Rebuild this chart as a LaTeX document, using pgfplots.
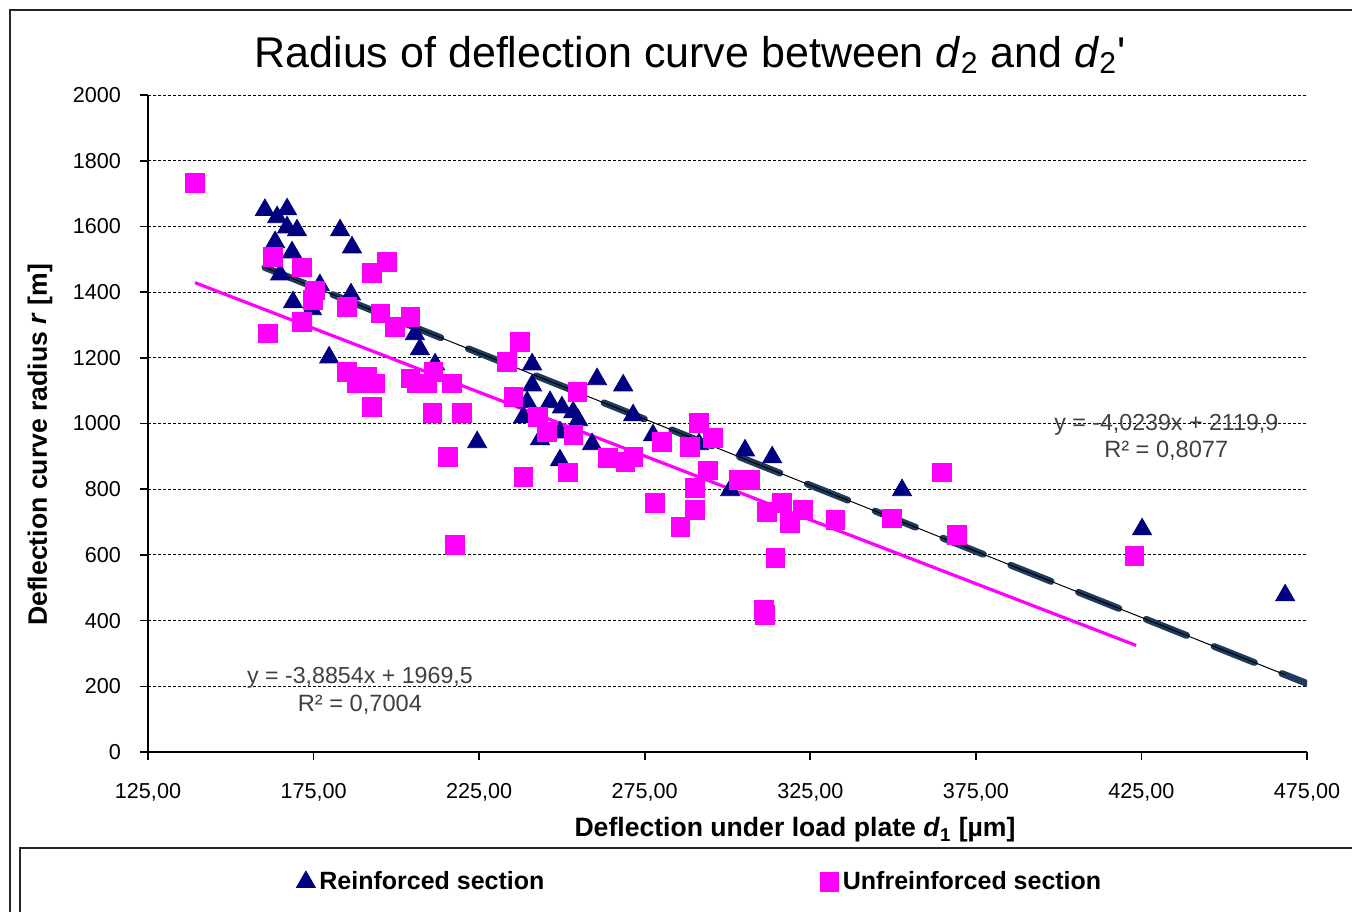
\documentclass[border=0pt]{standalone}
\usepackage{pgfplots}
\pgfplotsset{compat=1.18}
\usepackage{fontspec}
\setmainfont{Liberation Sans}
\definecolor{navyb}{RGB}{0,0,128}
\definecolor{mag}{RGB}{255,0,255}
\definecolor{trend}{RGB}{31,58,92}
\definecolor{eqgray}{RGB}{64,64,64}

\pgfplotstableread{
x y
160.3 1650
164.0 1628
167.0 1652
170.0 1588
167.0 1597
163.4 1552
168.5 1521
183.0 1588
186.6 1536
164.9 1454
168.8 1369
176.9 1421
186.3 1393
179.7 1201
174.5 1348
205.6 1272
207.1 1226
211.7 1180
224.4 943
241.0 1180
241.0 1116
239.5 1065
238.3 1019
246.4 1065
250.0 1049
253.4 1034
254.9 1010
249.4 973
243.4 952
259.1 937
249.4 888
260.6 1135
268.5 1116
271.5 1025
277.5 964
288.7 928
291.4 937
305.3 918
313.5 897
300.8 797
322.8 728
352.7 797
425.2 678
468.4 477
}\reinforced

\pgfplotstableread{
x y
139.2 1732
162.7 1507
171.5 1476
161.2 1275
171.5 1309
174.8 1376
175.4 1406
185.1 1355
192.6 1458
197.2 1492
195.1 1336
199.6 1294
204.2 1325
185.1 1157
188.1 1123
191.1 1142
193.6 1123
192.6 1050
204.2 1138
206.2 1123
209.3 1123
211.1 1157
216.8 1123
210.8 1032
219.8 1032
215.6 898
217.7 630
237.3 1248
233.4 1187
235.3 1081
242.8 1020
245.5 974
254.6 1096
253.4 965
238.3 837
251.8 852
263.9 895
269.1 883
271.5 898
280.2 944
288.7 929
291.4 1002
295.6 956
294.1 858
290.2 804
290.2 737
285.7 685
278.1 758
303.2 828
306.8 828
311.9 731
316.4 758
318.8 697
322.8 737
332.5 706
314.4 591
311.0 432
311.3 417
349.7 712
364.8 852
369.3 661
422.8 597
}\unreinforced

\begin{document}
\begin{tikzpicture}[x=1pt,y=1pt]
\useasboundingbox (-74,-79.5) rectangle (602,376);
\draw[line width=1pt, black!85] (-69,-90) -- (-69,371) -- (620,371);
\draw[line width=1pt, black!85] (-64,-90) -- (-64,-48) -- (620,-48);
\node at (271,348.5) {\fontsize{21.5}{25}\selectfont Radius of deflection curve between \textit{d}\textsubscript{2} and \textit{d}\textsubscript{2}\textquotesingle};
\node at (323.5,-39) {\fontsize{13.3}{16}\selectfont\bfseries Deflection under load plate \textit{d}\textsubscript{1} [µm]};
\node[rotate=90] at (-54,153.5) {\fontsize{13.3}{16}\selectfont\bfseries Deflection curve radius \textit{r} [m]};
\begin{axis}[
  at={(0,0)}, anchor=south west,
  scale only axis, width=579.5pt, height=328.5pt,
  xmin=125, xmax=475, ymin=0, ymax=2000,
  axis x line=bottom, axis y line=left, axis line style={-, line width=0.8pt, black},
  tick align=outside, major tick length=4pt,
  tick style={black, line width=0.8pt},
  xtick={125,175,225,275,325,375,425,475},
  xticklabels={{125,00},{175,00},{225,00},{275,00},{325,00},{375,00},{425,00},{475,00}},
  xticklabel style={yshift=-8pt},
  ytick={0,200,400,600,800,1000,1200,1400,1600,1800,2000},
  yticklabel style={/pgf/number format/1000 sep={}, xshift=-6pt},
  /pgf/number format/assume math mode=true,
  tick label style={font=\fontsize{10.8}{13}\selectfont},
  ymajorgrids, grid style={black, line width=0.5pt, dash pattern=on 1.5pt off 1pt},
  legend columns=2,
  legend style={at={(0.1225,-0.198)}, anchor=west, draw=none, fill=none,
    font=\fontsize{12.5}{15}\selectfont\bfseries,
    /tikz/every even column/.append style={column sep=136pt}},
]
\addplot[only marks, mark=triangle*, mark size=5.5pt, draw=navyb, fill=navyb] table[x=x,y=y] {\reinforced};
\addlegendentry{Reinforced section}
\addplot[only marks, mark=square*, mark size=4.6pt, draw=mag, fill=mag] table[x=x,y=y] {\unreinforced};
\addlegendentry{Unfreinforced section}
\addplot[mag, line width=1.6pt, forget plot] coordinates {(139.2,1428.65) (423.4,324.4)};
\addplot[trend, line width=3.4pt, line cap=round, dash pattern=on 21.8pt off 14.7pt, forget plot] coordinates {(160.3,1474.9) (475,208.55)};
\addplot[black, line width=0.5pt, forget plot] coordinates {(160.3,1474.9) (468.4,235.1)};
\node[text=eqgray, font=\fontsize{11.6}{14}\selectfont] at (axis cs:432.5,995) {y = -4,0239x + 2119,9};
\node[text=eqgray, font=\fontsize{11.8}{14}\selectfont] at (axis cs:432.5,916) {R² = 0,8077};
\node[text=eqgray, font=\fontsize{11.6}{14}\selectfont] at (axis cs:189.0,225) {y = -3,8854x + 1969,5};
\node[text=eqgray, font=\fontsize{11.8}{14}\selectfont] at (axis cs:189.0,143) {R² = 0,7004};
\end{axis}
\end{tikzpicture}
\end{document}
